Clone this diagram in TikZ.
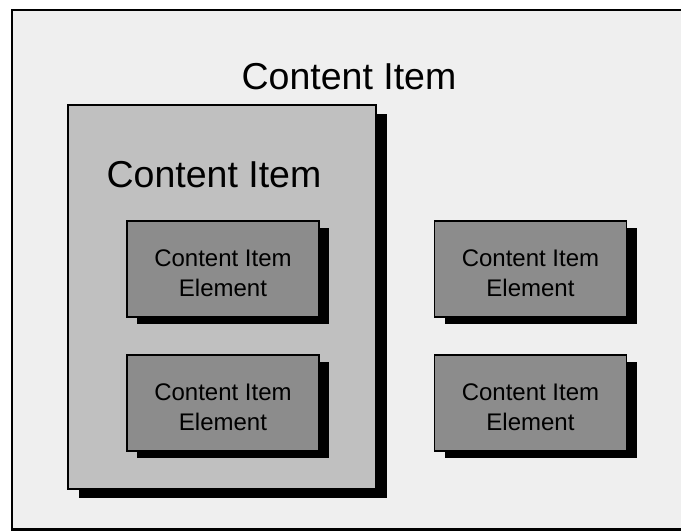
\documentclass[tikz,border=0pt]{standalone}
\usepackage{fontspec}
\setmainfont{Liberation Sans}
\usetikzlibrary{shadows}
\definecolor{outergray}{HTML}{EFEFEF}
\definecolor{biggray}{HTML}{C0C0C0}
\definecolor{elemgray}{HTML}{8C8C8C}
\begin{document}
\begin{tikzpicture}[x=1pt,y=-1pt,
  bigbox/.style={draw=black, line width=2pt, fill=biggray, minimum width=308pt, minimum height=384pt, inner sep=0pt,
    general shadow={fill=black, shadow xshift=11pt, shadow yshift=-9pt}},
  elembox/.style={draw=black, line width=1.4pt, fill=elemgray, minimum width=192pt, minimum height=96pt, inner sep=0pt,
    general shadow={fill=black, shadow xshift=10pt, shadow yshift=-7pt}},
  elemtext/.style={align=center, inner sep=0pt, font=\fontsize{24}{30}\selectfont},
  titletext/.style={inner sep=0pt, anchor=base, font=\fontsize{37.5}{40}\selectfont}]
\useasboundingbox (0,0) rectangle (681,531);
\fill[white] (0,0) rectangle (681,531);
\begin{scope}
\clip (0,0) rectangle (681,531);
\draw[fill=outergray, line width=2.5pt] (12,10) rectangle (720,529.5);
\end{scope}
\node[titletext] (title) at (349,89) {Content Item};
\node[bigbox] (big) at (222,297) {};
\node[titletext] (bigtitle) at (214,187) {Content Item};
\node[elembox] (e1) at (223,269) {};
\node[elembox] (e2) at (223,403) {};
\node[elembox] (e3) at (530.5,269) {};
\node[elembox] (e4) at (530.5,403) {};
\node[elemtext] (t1) at ([yshift=-4pt]e1.center) {Content Item\\Element};
\node[elemtext] (t2) at ([yshift=-4pt]e2.center) {Content Item\\Element};
\node[elemtext] (t3) at ([yshift=-4pt]e3.center) {Content Item\\Element};
\node[elemtext] (t4) at ([yshift=-4pt]e4.center) {Content Item\\Element};
\end{tikzpicture}
\end{document}
